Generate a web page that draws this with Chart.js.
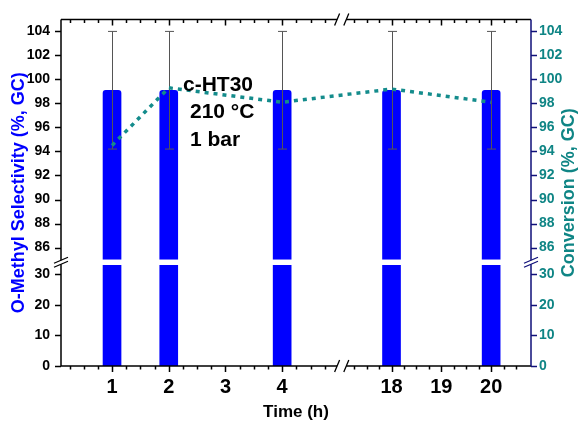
<!DOCTYPE html>
<html>
<head>
<meta charset="utf-8">
<script src="https://cdn.jsdelivr.net/npm/chart.js@4.4.0/dist/chart.umd.min.js"></script>
<style>
  html, body { margin: 0; padding: 0; background: #fff; }
  #wrap { width: 579px; height: 421px; }
</style>
</head>
<body>
<div id="wrap"><canvas id="chart" width="579" height="421"></canvas></div>
<script>
// values
const hours = [1, 2, 4, 18, 20];
const selectivity = [99.1, 99.1, 99.1, 99.1, 99.1];
const selectivityErr = [4.9, 4.9, 4.9, 4.9, 4.9];
const conversion = [94.5, 99.3, 98.1, 99.2, 98.1];

const xTickLabels = [1, 2, 3, 4, 18, 19, 20];
const yTickLabels = [0, 10, 20, 30, 86, 88, 90, 92, 94, 96, 98, 100, 102, 104];

// broken axis pieces (size = relative length of each piece)
const xSegments = [{ min: 0.1, max: 5.05, size: 280.7 }, { min: 17, max: 20.8, size: 189.3 }];
const ySegments = [{ min: 0, max: 33, size: 101.7 }, { min: 85, max: 105, size: 241.8 }];

const FONT = 'Liberation Sans, Arial, Helvetica, sans-serif';
const BLUE = '#0000FF';
const TEAL = '#0F8585';
const NAVY = '#10107A';

Chart.defaults.font.family = FONT;

// linear scale with pieces cut out of it
class BrokenScale extends Chart.LinearScale {
    static id = 'broken';
    static defaults = {};

    determineDataLimits() {
        const segs = this.options.segments;
        this.min = segs[0].min;
        this.max = segs[segs.length - 1].max;
    }

    buildTicks() {
        return this.options.tickValues.map(v => ({ value: v }));
    }

    _total() {
        const segs = this.options.segments;
        const gap = this.options.gap || 0;
        return segs.reduce((s, g) => s + g.size, 0) + gap * (segs.length - 1);
    }

    _decimal(value) {
        const segs = this.options.segments;
        const gap = this.options.gap || 0;
        let pos = 0;
        for (let i = 0; i < segs.length; i++) {
            const g = segs[i];
            if (value <= g.max || i === segs.length - 1) {
                let t = (value - g.min) / (g.max - g.min);
                if (i > 0 && t < 0) t = 0;
                return (pos + t * g.size) / this._total();
            }
            pos += g.size + gap;
        }
    }

    getPixelForValue(value) {
        if (value === null || value === undefined) return NaN;
        return this.getPixelForDecimal(this._decimal(value));
    }

    getValueForPixel(pixel) {
        const d = this.getDecimalForPixel(pixel) * this._total();
        const segs = this.options.segments;
        const gap = this.options.gap || 0;
        let pos = 0;
        for (const g of segs) {
            if (d <= pos + g.size) return g.min + (d - pos) / g.size * (g.max - g.min);
            pos += g.size + gap;
        }
        return this.max;
    }
}
Chart.register(BrokenScale);

const decorPlugin = {
    id: 'decor',
    afterDatasetDraw(chart, args) {
        if (args.index !== 0) return;
        const { ctx, chartArea: a, scales: { y } } = chart;
        ctx.save();
        // white cut through the bars at the y break
        const top = y.getPixelForValue(ySegments[1].min);
        const bot = y.getPixelForValue(ySegments[0].max);
        ctx.fillStyle = '#fff';
        ctx.fillRect(a.left, top, a.right - a.left, bot - top);
        // error bars
        ctx.strokeStyle = '#555';
        ctx.lineWidth = 1;
        args.meta.data.forEach((bar, i) => {
            const hi = y.getPixelForValue(selectivity[i] + selectivityErr[i]);
            const lo = y.getPixelForValue(selectivity[i] - selectivityErr[i]);
            const bx = Math.round(bar.x) + 0.5;
            ctx.beginPath();
            ctx.moveTo(bx, hi); ctx.lineTo(bx, lo);
            ctx.moveTo(bx - 4.5, hi); ctx.lineTo(bx + 4.5, hi);
            ctx.moveTo(bx - 4.5, lo); ctx.lineTo(bx + 4.5, lo);
            ctx.stroke();
        });
        ctx.restore();
    },
    afterDraw(chart) {
        const { ctx, chartArea: a, scales: { x, y, y2 } } = chart;
        const yc = (y.getPixelForValue(ySegments[0].max) + y.getPixelForValue(ySegments[1].min)) / 2;
        const xc = x.getPixelForValue(xSegments[0].max);

        ctx.save();
        ctx.lineWidth = 1.5;

        const vAxis = (ax, color, scale, dir) => {
            ctx.strokeStyle = color;
            ctx.beginPath();
            ctx.moveTo(ax, a.bottom); ctx.lineTo(ax, yc + 2);
            ctx.moveTo(ax, yc - 2); ctx.lineTo(ax, a.top);
            scale.ticks.forEach(t => {
                const py = Math.round(scale.getPixelForValue(t.value)) + 0.5;
                ctx.moveTo(ax, py); ctx.lineTo(ax + dir * 6, py);
            });
            ctx.stroke();
            ctx.lineWidth = 1.3;
            ctx.beginPath();
            ctx.moveTo(ax - 7, yc + 1); ctx.lineTo(ax + 7, yc - 5);
            ctx.moveTo(ax - 7, yc + 5); ctx.lineTo(ax + 7, yc - 1);
            ctx.stroke();
            ctx.lineWidth = 1.5;
        };

        const hAxis = (ay, dir) => {
            ctx.strokeStyle = '#000';
            ctx.beginPath();
            ctx.moveTo(a.left, ay); ctx.lineTo(xc - 4.6, ay);
            ctx.moveTo(xc + 4.6, ay); ctx.lineTo(a.right, ay);
            xTickLabels.forEach(v => {
                const px = Math.round(x.getPixelForValue(v)) + 0.5;
                ctx.moveTo(px, ay); ctx.lineTo(px, ay + dir * 6);
            });
            // minor ticks every 0.25 h inside each piece
            xSegments.forEach(g => {
                for (let v = Math.ceil(g.min * 4) / 4; v < g.max - 0.1; v += 0.25) {
                    if (xTickLabels.includes(v) || v <= g.min) continue;
                    const px = Math.round(x.getPixelForValue(v)) + 0.5;
                    ctx.moveTo(px, ay); ctx.lineTo(px, ay + dir * 3.5);
                }
            });
            ctx.stroke();
            ctx.lineWidth = 1.3;
            ctx.beginPath();
            [xc - 4.6, xc + 4.6].forEach(cx => {
                ctx.moveTo(cx - 2.5, ay + 6); ctx.lineTo(cx + 2.5, ay - 6);
            });
            ctx.stroke();
            ctx.lineWidth = 1.5;
        };

        hAxis(a.bottom, 1);
        hAxis(a.top, 1);
        vAxis(a.left, '#000', y, -1);
        vAxis(a.right, NAVY, y2, 1);

        // axis titles
        ctx.font = 'bold 18px ' + FONT;
        ctx.textAlign = 'center';
        ctx.textBaseline = 'middle';
        const midY = (a.top + a.bottom) / 2;
        ctx.save();
        ctx.translate(19, midY);
        ctx.rotate(-Math.PI / 2);
        ctx.fillStyle = BLUE;
        ctx.fillText('O-Methyl Selectivity (%, GC)', 0, 0);
        ctx.restore();
        ctx.save();
        ctx.translate(569, midY);
        ctx.rotate(-Math.PI / 2);
        ctx.fillStyle = TEAL;
        ctx.fillText('Conversion (%, GC)', 0, 0);
        ctx.restore();

        ctx.fillStyle = '#000';
        ctx.font = 'bold 17px ' + FONT;
        ctx.fillText('Time (h)', (a.left + a.right) / 2, 412);

        // sample conditions
        ctx.font = 'bold 21px ' + FONT;
        ctx.textAlign = 'left';
        ctx.fillText('c-HT30', 183, 85);
        ctx.fillText('210 °C', 190, 112);
        ctx.fillText('1 bar', 190, 140);
        ctx.restore();
    }
};

const ctx = document.getElementById('chart').getContext('2d');
new Chart(ctx, {
    type: 'bar',
    data: {
        datasets: [
            {
                type: 'bar',
                label: 'O-Methyl Selectivity',
                data: hours.map((h, i) => ({ x: h, y: selectivity[i] })),
                backgroundColor: BLUE,
                barThickness: 18,
                borderRadius: 3,
                borderSkipped: 'start',
                xAxisID: 'x',
                yAxisID: 'y',
                order: 2
            },
            {
                type: 'line',
                label: 'Conversion',
                data: hours.map((h, i) => ({ x: h, y: conversion[i] })),
                borderColor: '#148C8C',
                borderWidth: 3.5,
                borderDash: [4, 5],
                pointRadius: 0,
                fill: false,
                tension: 0,
                xAxisID: 'x',
                yAxisID: 'y2',
                order: 1
            }
        ]
    },
    options: {
        responsive: false,
        animation: false,
        layout: { padding: { top: 17, left: 0, right: 0, bottom: 0 } },
        plugins: { legend: { display: false }, tooltip: { enabled: false } },
        scales: {
            x: {
                type: 'broken',
                position: 'bottom',
                segments: xSegments,
                gap: 0,
                tickValues: xTickLabels,
                offset: false,
                grid: { display: false, drawTicks: false, offset: false },
                border: { display: false },
                ticks: {
                    autoSkip: false, maxRotation: 0, padding: 9, color: '#000',
                    font: { size: 20, weight: 'bold' },
                    callback: v => String(v)
                },
                afterFit: s => { s.height = 55; }
            },
            y: {
                type: 'broken',
                position: 'left',
                segments: ySegments,
                gap: 5.5,
                tickValues: yTickLabels,
                grid: { display: false, drawTicks: false },
                border: { display: false },
                ticks: {
                    autoSkip: false, padding: 11, color: '#000',
                    font: { size: 14, weight: 'bold' },
                    callback: v => String(v)
                },
                afterFit: s => { s.width = 61; }
            },
            y2: {
                type: 'broken',
                position: 'right',
                segments: ySegments,
                gap: 5.5,
                tickValues: yTickLabels,
                grid: { display: false, drawTicks: false },
                border: { display: false },
                ticks: {
                    autoSkip: false, padding: 8, color: TEAL,
                    font: { size: 14, weight: 'bold' },
                    callback: v => String(v)
                },
                afterFit: s => { s.width = 48; }
            }
        }
    },
    plugins: [decorPlugin]
});
</script>
</body>
</html>
